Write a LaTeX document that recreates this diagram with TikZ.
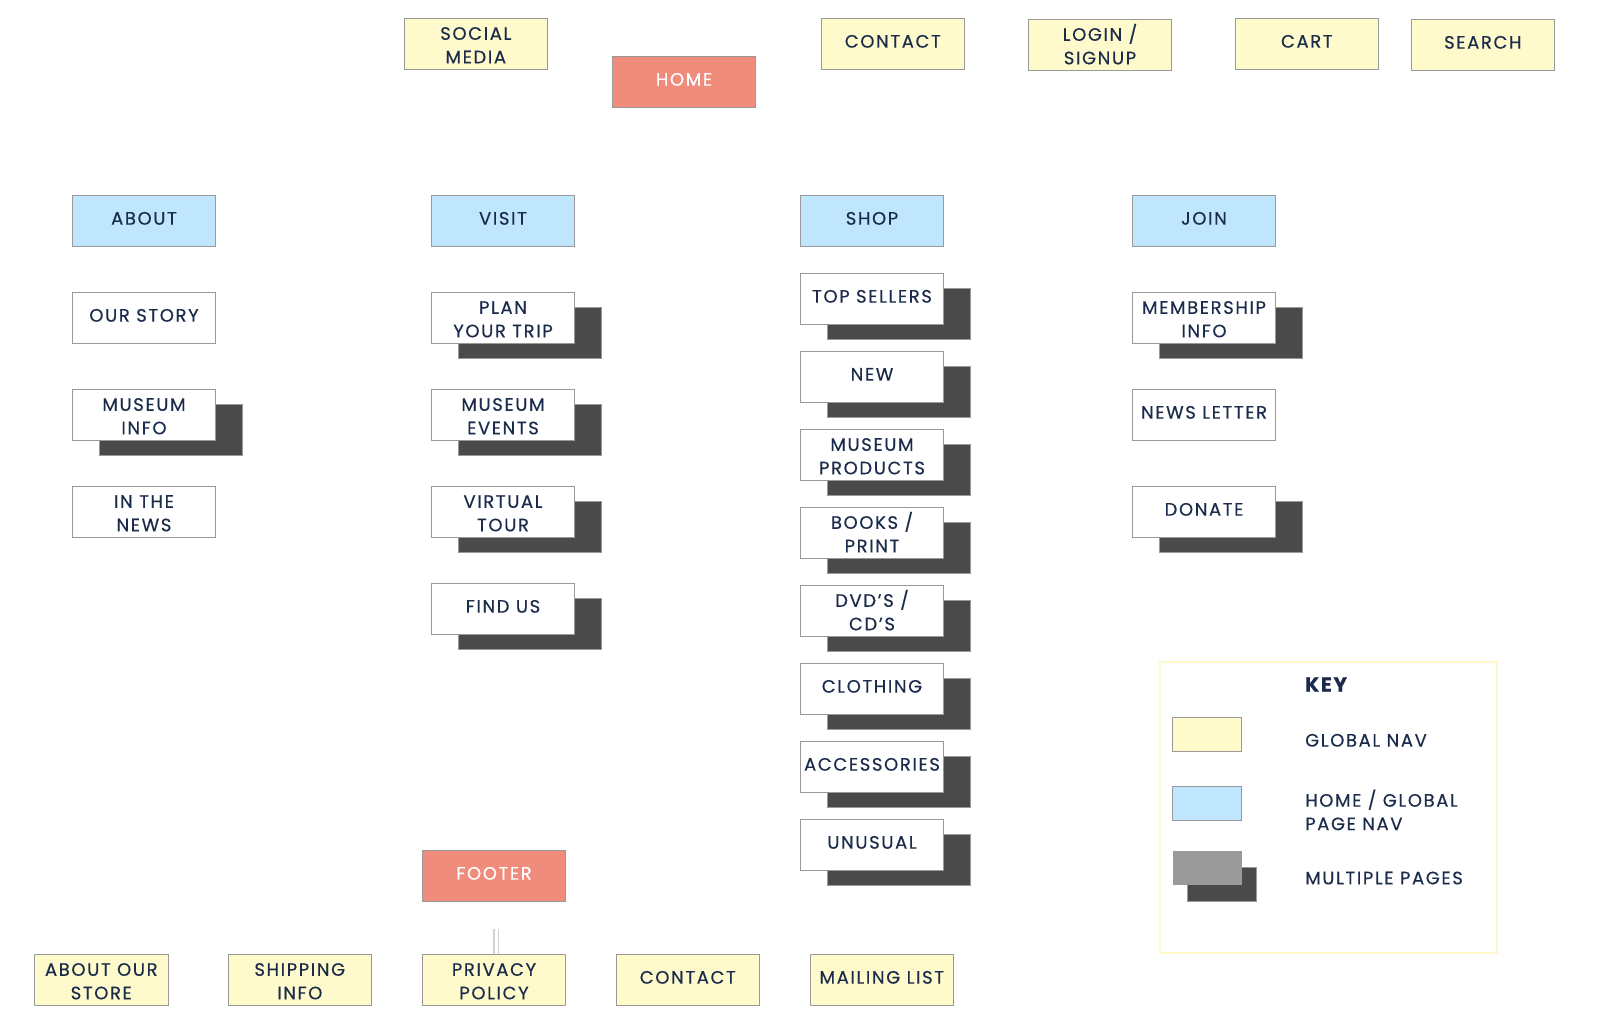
\documentclass[tikz,border=0pt]{standalone}
\usepackage{fontspec}
\setmainfont{Poppins}[LetterSpace=9, FakeBold=0.4]
\usetikzlibrary{positioning,shadows}
\definecolor{navtext}{HTML}{1B2B4B}
\definecolor{navyellow}{HTML}{FEFACB}
\definecolor{navblue}{HTML}{BFE6FD}
\definecolor{homered}{HTML}{F08C7C}
\definecolor{boxline}{HTML}{999999}
\definecolor{stackgray}{HTML}{4A4A4A}
\definecolor{keygray}{HTML}{9A9A9A}
\definecolor{keyline}{HTML}{FFF9C8}
\tikzset{%
  % Specifications for style of boxes:
   base/.style = {rectangle, draw=boxline, line width=1.2pt,
                  minimum width=143pt, minimum height=51pt, inner sep=0pt,
                  text centered, align=center, text=navtext, text depth=5pt,
                  font=\fontsize{18}{23.5}\selectfont},
   twoline/.style = {text height=39pt, text depth=0pt},
   globalnav/.style = {base, fill=navyellow},
   pagenav/.style = {base, fill=navblue},
   home/.style = {base, fill=homered, text=white},
   page/.style = {base, fill=white},
   multipage/.style = {page,
                  drop shadow={shadow xshift=27pt, shadow yshift=-15pt,
                               fill=stackgray, draw=boxline, opacity=1}},
  % Specifications for the key:
   keyframe/.style = {rectangle, draw=keyline, line width=2pt,
                  minimum width=337pt, minimum height=291pt},
   swatch/.style = {rectangle, draw=boxline, line width=1.2pt,
                  minimum width=69pt, minimum height=34pt},
   keytext/.style = {anchor=west, align=left, inner sep=0pt, text=navtext,
                  font=\fontsize{18}{23.5}\selectfont},
  % Specifications for the connector stub:
   stub/.style = {draw=gray!35, double=white, double distance=3pt,
                  line width=1.2pt},
}

\begin{document}
\begin{tikzpicture}[x=1pt, y=-1pt, node distance=97pt]
  \useasboundingbox (0,0) rectangle (1600,1023);

  % Global navigation
  \node (social_block)	[globalnav, twoline] at (475.8,43.8)	{SOCIAL\\MEDIA};
  \node (home_block)	[home] at (684,81.8)	{HOME};
  \node (contact_block)	[globalnav] at (892.8,43.8)	{CONTACT};
  \node (login_block)	[globalnav, twoline] at (1100,44.8)	{LOGIN /\\SIGNUP};
  \node (cart_block)	[globalnav] at (1306.8,43.8)	{CART};
  \node (search_block)	[globalnav] at (1482.8,44.8)	{SEARCH};

  % About column
  \node (about_block)	[pagenav] at (144,220.8)	{ABOUT};
  \node (story_block)	[page, below of= about_block]	{OUR STORY};
  \node (museuminfo_block)	[multipage, twoline, below of= story_block]	{MUSEUM\\INFO};
  \node (news_block)	[page, twoline, below of= museuminfo_block]	{IN THE\\NEWS};

  % Visit column
  \node (visit_block)	[pagenav] at (503,220.8)	{VISIT};
  \node (plan_block)	[multipage, twoline, below of= visit_block]	{PLAN\\YOUR TRIP};
  \node (events_block)	[multipage, twoline, below of= plan_block]	{MUSEUM\\EVENTS};
  \node (tour_block)	[multipage, twoline, below of= events_block]	{VIRTUAL\\TOUR};
  \node (findus_block)	[multipage, below of= tour_block]	{FIND US};

  % Shop column
  \begin{scope}[node distance=78pt]
  \node (shop_block)	[pagenav] at (872,220.8)	{SHOP};
  \node (topsellers_block)	[multipage, below of= shop_block]	{TOP SELLERS};
  \node (new_block)	[multipage, below of= topsellers_block]	{NEW};
  \node (products_block)	[multipage, twoline, below of= new_block]	{MUSEUM\\PRODUCTS};
  \node (books_block)	[multipage, twoline, below of= products_block]	{BOOKS /\\PRINT};
  \node (dvd_block)	[multipage, twoline, below of= books_block]	{DVD’S /\\CD’S};
  \node (clothing_block)	[multipage, below of= dvd_block]	{CLOTHING};
  \node (accessories_block)	[multipage, below of= clothing_block]	{ACCESSORIES};
  \node (unusual_block)	[multipage, below of= accessories_block]	{UNUSUAL};
  \end{scope}

  % Join column
  \node (join_block)	[pagenav] at (1204,220.8)	{JOIN};
  \node (membership_block)	[multipage, twoline, below of= join_block]	{MEMBERSHIP\\INFO};
  \node (newsletter_block)	[page, below of= membership_block]	{NEWS LETTER};
  \node (donate_block)	[multipage, below of= newsletter_block]	{DONATE};

  % Footer
  \node (footer_block)	[home] at (494,875.8)	{FOOTER};
  \node (store_block)	[globalnav, twoline, minimum width=134pt] at (101.3,979.8)	{ABOUT OUR\\STORE};
  \node (shipping_block)	[globalnav, twoline] at (299.8,979.8)	{SHIPPING\\INFO};
  \node (privacy_block)	[globalnav, twoline] at (494,979.8)	{PRIVACY\\POLICY};
  \node (footcontact_block)	[globalnav] at (687.8,979.8)	{CONTACT};
  \node (mailing_block)	[globalnav] at (881.8,979.8)	{MAILING LIST};

  \coordinate (stub_top) at (496,928.5);
  \draw[stub]	(stub_top) -- (stub_top |- privacy_block.north);

  % Key
  \node (key_frame)	[keyframe] at (1328.3,807.3)	{};
  \node (key_title)	[keytext, font=\fontsize{20}{24}\selectfont\bfseries] at (1305,684.5)	{KEY};
  \node (global_swatch)	[swatch, fill=navyellow] at (1207,734.3)	{};
  \node (global_label)	[keytext] at (1305,740.3)	{GLOBAL NAV};
  \node (page_swatch)	[swatch, fill=navblue] at (1207,803.3)	{};
  \node (page_label)	[keytext] at (1305,810)	{HOME / GLOBAL\\PAGE NAV};
  \node (multi_swatch)	[swatch, draw=none, fill=keygray,
      drop shadow={shadow xshift=15pt, shadow yshift=-16pt,
                   fill=stackgray, draw=boxline, opacity=1}] at (1207,868.3)	{};
  \node (multi_label)	[keytext] at (1305,878)	{MULTIPLE PAGES};

\end{tikzpicture}
\end{document}
